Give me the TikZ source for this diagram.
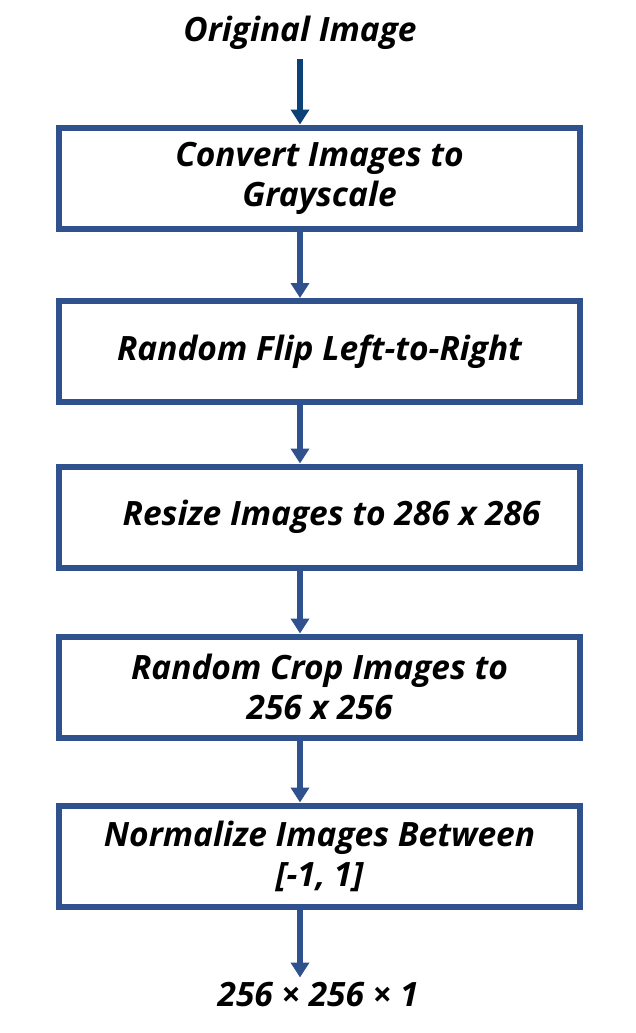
\documentclass[tikz,border=0pt]{standalone}
\usepackage{fontspec}
\setmainfont{Open Sans}
\usepackage{tikz}
\usetikzlibrary{arrows.meta,positioning}
\definecolor{boxblue}{HTML}{2F528F}
\definecolor{darkblue}{HTML}{0B4177}

\begin{document}
\begin{tikzpicture}[x=1pt,y=-1pt,
  every node/.style={font=\fontsize{33.5}{40}\selectfont\bfseries\itshape},
  stage/.style={draw=boxblue,line width=6pt,minimum width=521pt,minimum height=101pt,align=center,inner sep=0pt},
  flow/.style={boxblue,line width=6pt,-{Triangle[length=15pt,width=18pt]}}]
  \useasboundingbox (0,0) rectangle (635,1033);
  % input and output labels
  \node (orig) at (300,33) {Original Image};
  \node[inner sep=5pt] (out) at (318,995) {256 × 256 × 1};
  % preprocessing steps
  \node[stage] (gray) at (319.5,178) {Convert Images to\\Grayscale};
  \node[stage] (flip) at (319.5,351.5) {Random Flip Left-to-Right};
  \node[stage] (resize) at (319.5,517) {\hspace*{24pt}Resize Images to 286 x 286};
  \node[stage] (crop) at (319.5,687) {Random Crop Images to\\256 x 256};
  \node[stage] (norm) at (319.5,856) {Normalize Images Between\\{[-1, 1]}};
  % arrows, all on the axis of the top label
  \draw[flow,darkblue,shorten <=6pt] (orig.south) -- (gray.north -| orig);
  \draw[flow] (gray.south -| orig) -- (flip.north -| orig);
  \draw[flow] (flip.south -| orig) -- (resize.north -| orig);
  \draw[flow] (resize.south -| orig) -- (crop.north -| orig);
  \draw[flow] (crop.south -| orig) -- (norm.north -| orig);
  \draw[flow] (norm.south -| orig) -- (out.north -| orig);
\end{tikzpicture}
\end{document}
